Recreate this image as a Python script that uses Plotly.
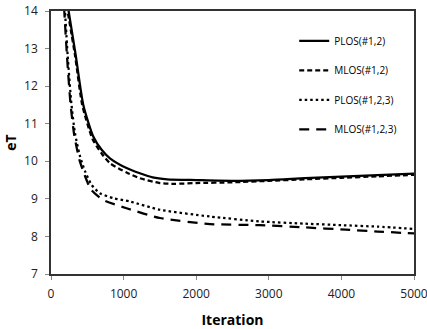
import plotly.graph_objects as go

# PLOS(#1,2)
it_a = [230, 340, 445, 582, 700, 812, 1041, 1224, 1400, 1600, 2000, 2500, 3000, 3500, 4000, 4500, 5000]
eT_a = [14.15, 12.83, 11.5, 10.66, 10.3, 10.08, 9.82, 9.68, 9.57, 9.52, 9.5, 9.48, 9.5, 9.55, 9.59, 9.63, 9.67]
# MLOS(#1,2)
it_b = [215, 330, 430, 570, 700, 812, 1041, 1224, 1500, 1700, 2000, 2500, 3000, 3500, 4000, 4500, 5000]
eT_b = [14.15, 12.83, 11.5, 10.6, 10.2, 9.95, 9.7, 9.55, 9.42, 9.4, 9.42, 9.44, 9.48, 9.52, 9.56, 9.6, 9.64]
# PLOS(#1,2,3)
it_c = [190, 230, 280, 330, 400, 470, 560, 674, 857, 1087, 1500, 2190, 2875, 3500, 4000, 4500, 5000]
eT_c = [14.1, 12.8, 11.55, 10.75, 10.13, 9.73, 9.37, 9.15, 9.02, 8.93, 8.71, 8.53, 8.4, 8.34, 8.3, 8.26, 8.2]
# MLOS(#1,2,3)
it_d = [180, 220, 270, 320, 390, 460, 550, 720, 1041, 1500, 2190, 2875, 3500, 4060, 4500, 5000]
eT_d = [14.1, 12.8, 11.5, 10.7, 10.05, 9.65, 9.25, 8.97, 8.75, 8.49, 8.33, 8.3, 8.24, 8.18, 8.13, 8.08]

names = ["PLOS(#1,2)", "MLOS(#1,2)", "PLOS(#1,2,3)", "MLOS(#1,2,3)"]
dashes = ["solid", "5px,3px", "2.5px,3px", "10px,7px"]
xs = [it_a, it_b, it_c, it_d]
ys = [eT_a, eT_b, eT_c, eT_d]

fig = go.Figure()
for i, (n, d, x, y) in enumerate(zip(names, dashes, xs, ys)):
    fig.add_trace(go.Scatter(x=x, y=y, mode="lines", name=n, legendgroup=str(i),
                             line=dict(color="black", width=2.25, dash=d, shape="spline", smoothing=0.6)))

font_family = "Open Sans, Liberation Sans, sans-serif"
fig.update_layout(
    width=427, height=329,
    margin=dict(l=51, r=13, t=11, b=55, autoexpand=False),
    paper_bgcolor="white", plot_bgcolor="white",
    font=dict(family=font_family, size=12, color="#222"),
    showlegend=True,
    legend=dict(x=0.67, y=0.942, xanchor="left", yanchor="top", bgcolor="rgba(0,0,0,0)",
                font=dict(size=10, color="black"), tracegroupgap=10.5, itemwidth=30),
    xaxis=dict(range=[0, 5000], tickvals=[0, 1000, 2000, 3000, 4000, 5000], showgrid=False, zeroline=False,
               showline=True, linecolor="#333", linewidth=1.5, mirror=True, ticks="outside", ticklen=4,
               tickcolor="#888", ticklabeloverflow="allow", ticklabelstandoff=4, automargin=False,
               title=dict(text="<b>Iteration</b>", font=dict(size=14, color="black"), standoff=15)),
    yaxis=dict(range=[7, 14], tickvals=[7, 8, 9, 10, 11, 12, 13, 14], showgrid=False, zeroline=False,
               showline=True, linecolor="#333", linewidth=1.5, mirror=True, ticks="outside", ticklen=4,
               tickcolor="#888", ticklabelstandoff=5, ticklabeloverflow="allow", automargin=False,
               title=dict(text="<b>eT</b>", font=dict(size=14, color="black"), standoff=4)),
)
fig.write_html("out.html", config={"displayModeBar": False},
               post_script="document.body.style.margin='0px';")
